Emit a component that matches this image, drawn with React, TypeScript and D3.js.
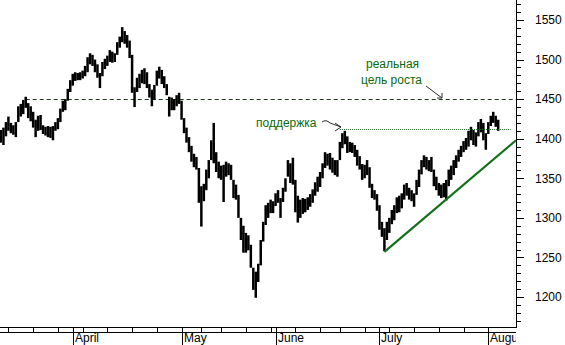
import React from "react";
import * as d3 from "d3";

// half-day sessions, index 0..201
const highs = [
  1411,1414,1421,1428,1420,1417,1421,1441,1444,1449,
  1453,1445,1441,1434,1424,1429,1430,1417,1415,1416,
  1415,1416,1421,1426,1438,1448,1450,1463,1474,1482,
  1484,1483,1484,1486,1492,1503,1508,1506,1500,1494,
  1483,1497,1501,1505,1512,1510,1508,1522,1529,1541,
  1536,1531,1524,1506,1465,1477,1482,1487,1489,1484,
  1469,1462,1468,1486,1491,1487,1479,1469,1453,1452,
  1450,1455,1458,1448,1426,1414,1402,1391,1381,1377,
  1363,1340,1343,1361,1373,1398,1420,1383,1371,1366,
  1367,1371,1369,1367,1348,1342,1329,1300,1290,1281,
  1278,1266,1237,1232,1242,1272,1295,1316,1319,1323,
  1321,1331,1335,1325,1338,1350,1373,1369,1376,1348,
  1328,1323,1325,1324,1326,1330,1336,1345,1352,1358,
  1369,1383,1381,1382,1376,1373,1373,1396,1407,1410,
  1403,1396,1395,1392,1386,1378,1368,1367,1373,1364,
  1343,1335,1330,1316,1295,1287,1295,1300,1310,1316,
  1326,1328,1331,1342,1344,1338,1335,1331,1348,1361,
  1373,1379,1377,1373,1377,1361,1352,1344,1342,1344,
  1348,1361,1366,1373,1379,1386,1391,1397,1401,1410,
  1415,1411,1408,1421,1425,1420,1407,1421,1429,1434,
  1429,1424,
];
const lows = [
  1395,1392,1403,1410,1407,1405,1402,1421,1428,1431,
  1439,1426,1422,1414,1402,1410,1411,1406,1404,1402,
  1401,1398,1410,1412,1421,1434,1436,1448,1459,1467,
  1473,1474,1474,1476,1479,1484,1494,1492,1484,1477,
  1464,1479,1488,1492,1497,1496,1497,1506,1515,1522,
  1520,1515,1502,1458,1440,1459,1464,1470,1469,1464,
  1452,1441,1449,1467,1476,1469,1464,1455,1428,1436,
  1436,1441,1444,1424,1407,1395,1383,1371,1364,1361,
  1319,1289,1321,1335,1350,1373,1369,1358,1350,1348,
  1320,1352,1354,1348,1325,1323,1300,1272,1256,1256,
  1259,1237,1209,1199,1219,1240,1270,1291,1300,1306,
  1306,1315,1319,1300,1320,1333,1352,1344,1342,1307,
  1294,1300,1305,1307,1310,1314,1319,1328,1333,1339,
  1350,1363,1366,1361,1357,1354,1352,1373,1388,1393,
  1382,1383,1382,1377,1366,1361,1348,1350,1354,1338,
  1325,1323,1309,1285,1276,1258,1272,1281,1292,1297,
  1306,1307,1312,1323,1328,1323,1321,1314,1329,1339,
  1355,1364,1361,1359,1358,1340,1335,1328,1325,1326,
  1322,1340,1348,1354,1363,1371,1377,1383,1386,1390,
  1398,1392,1390,1403,1408,1398,1386,1406,1416,1420,
  1415,1410,
];

const yLabelTicks = [1200, 1250, 1300, 1350, 1400, 1450, 1500, 1550];
const monthLabels = ["April", "May", "June", "July", "August"];
const monthSessions = [29, 73, 111, 153, 197];
const weekSessions = [3, 13, 23, 33, 43, 53, 63, 73, 81, 89, 99, 109, 119, 129, 137, 147, 157, 167, 177, 187, 197];

const targetLevel = 1450;
const targetFrom = 10;
const supportLevel = 1412;
const supportFrom = 137;
const supportTo = 206;
const trendPoints = [
  { s: 155, v: 1257 },
  { s: 208.2, v: 1398 },
];

export default function App() {
  const W = 565, H = 345;
  const plotR = 516, plotB = 327;
  const x = d3.scaleLinear().domain([-0.4, 208.2]).range([0, plotR]);
  const y = d3.scaleLinear().domain([1200, 1550]).range([297, 20]);
  const minor = d3.range(1170, 1571, 10);
  const trendLine = d3.line<{ s: number; v: number }>().x(d => x(d.s)).y(d => y(d.v));
  const font = "'Liberation Sans', Arial, sans-serif";
  const green = "#0a6a0a";

  return (
    <svg width={W} height={H} style={{ position: "fixed", left: 0, top: 0, background: "#fff" }}>
      <defs>
        <clipPath id="plot"><rect x={0} y={0} width={plotR} height={plotB} /></clipPath>
        <clipPath id="xlab"><rect x={0} y={plotB} width={plotR} height={H - plotB} /></clipPath>
      </defs>
      <rect x={0} y={0} width={W} height={H} fill="#fff" />
      <g clipPath="url(#plot)">
        {/* target level */}
        <line x1={x(targetFrom)} x2={plotR} y1={Math.round(y(targetLevel)) + 0.5} y2={Math.round(y(targetLevel)) + 0.5}
          stroke="#1c3a1c" strokeDasharray="4,3" strokeWidth={1} />
        {/* price bars */}
        {highs.map((h, i) => (
          <line key={i} x1={x(i)} x2={x(i)} y1={y(h)} y2={y(lows[i])} stroke="#000" strokeWidth={2.5} />
        ))}
        {/* support level */}
        <line x1={x(supportFrom)} x2={x(supportTo)} y1={Math.round(y(supportLevel)) + 0.5} y2={Math.round(y(supportLevel)) + 0.5}
          stroke="#1d5a1d" strokeWidth={1} strokeDasharray="1,1" />
        {/* trend line */}
        <path d={trendLine(trendPoints) || ""} stroke="#13701a" strokeWidth={2.2} fill="none" />
      </g>

      {/* annotations */}
      <g fontFamily={font} fontSize={12} fill={green}>
        <text x={366} y={68}>реальная</text>
        <text x={361} y={84}>цель роста</text>
        <text x={256} y={127}>поддержка</text>
      </g>
      <g stroke="#2a2a2a" strokeWidth={1} fill="none">
        <path d="M426,86 L442,98" />
        <path d="M437,98 L442,98 L442,93" />
        <path d="M322,122 Q326,119 330,123 L341,127" />
        <path d="M335,123 L341,127 L335,131" />
      </g>

      {/* right axis */}
      <g shapeRendering="crispEdges" stroke="#000">
        <line x1={plotR + 0.5} x2={plotR + 0.5} y1={0} y2={plotB} />
        {minor.map(v => (
          <line key={v} x1={plotR} x2={plotR + (v % 50 === 0 ? 8 : 5)} y1={Math.round(y(v)) + 0.5} y2={Math.round(y(v)) + 0.5} />
        ))}
      </g>
      <g fontFamily={font} fontSize={12} fill="#000">
        {yLabelTicks.map(v => (
          <text key={v} x={535} y={y(v)} dy="0.36em">{v}</text>
        ))}
      </g>

      {/* bottom axis */}
      <g shapeRendering="crispEdges" stroke="#000">
        <line x1={0} x2={plotR + 1} y1={plotB + 0.5} y2={plotB + 0.5} />
        <line x1={0} x2={plotR} y1={plotB + 5.5} y2={plotB + 5.5} />
        {weekSessions.map(s => (
          <line key={s} x1={Math.round(x(s)) + 0.5} x2={Math.round(x(s)) + 0.5} y1={plotB} y2={plotB + 5} />
        ))}
        {monthSessions.map(s => (
          <line key={s} x1={Math.round(x(s)) + 0.5} x2={Math.round(x(s)) + 0.5} y1={plotB} y2={H} />
        ))}
      </g>
      <g fontFamily={font} fontSize={12} fill="#000" clipPath="url(#xlab)">
        {monthLabels.map((m, i) => (
          <text key={m} x={Math.round(x(monthSessions[i])) + 2} y={342}>{m}</text>
        ))}
      </g>
    </svg>
  );
}
